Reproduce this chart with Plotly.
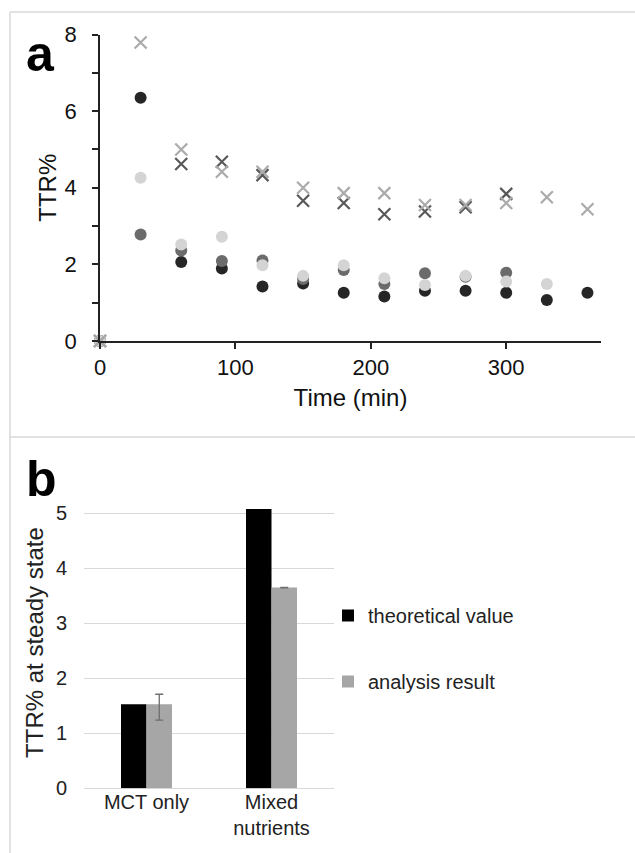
import plotly.graph_objects as go

W, H = 635, 853
FONT = "Liberation Sans, Arial, sans-serif"

# ---------- panel a data ----------
time_min = [0, 30, 60, 90, 120, 150, 180, 210, 240, 270, 300, 330, 360]
dots_black = [0, 6.35, 2.06, 1.89, 1.42, 1.50, 1.26, 1.16, 1.31, 1.31, 1.26, 1.07, 1.26]
dots_dark = [0, 2.78, 2.36, 2.09, 2.10, 1.62, 1.85, 1.49, 1.77, 1.68, 1.78, None, None]
dots_light = [0, 4.26, 2.52, 2.72, 1.98, 1.70, 1.98, 1.64, 1.46, 1.70, 1.55, 1.49, None]
cross_dark = [0, None, 4.62, 4.68, 4.33, 3.66, 3.60, 3.31, 3.38, 3.49, 3.84, None, None]
cross_light = [0, 7.79, 5.00, 4.42, 4.42, 4.00, 3.86, 3.86, 3.55, 3.55, 3.60, 3.75, 3.44]

# ---------- panel b data ----------
groups = ["MCT only", "Mixed<br>nutrients"]
theoretical = [1.53, 5.08]
analysis = [1.53, 3.65]
analysis_err_plus = [0.18, 0.005]
analysis_err_minus = [0.29, 0.005]

a_xticks = [0, 100, 200, 300]
a_yticks = [0, 1, 2, 3, 4, 5, 6, 7, 8]
a_yticktext = ["0", "", "2", "", "4", "", "6", "", "8"]
b_yticks = [0, 1, 2, 3, 4, 5]


def px_x(p):
    return p / W


def px_y(p):
    return 1 - p / H


fig = go.Figure()

dot_series = [
    (dots_black, "#262626"),
    (dots_dark, "#6b6b6b"),
    (dots_light, "#d4d4d4"),
]
for vals, col in dot_series:
    fig.add_trace(go.Scatter(
        x=time_min, y=vals, mode="markers", xaxis="x", yaxis="y",
        marker=dict(symbol="circle", size=12, color=col),
        showlegend=False, cliponaxis=False, hoverinfo="x+y"))

cross_series = [
    (cross_dark, "#595959"),
    (cross_light, "#ababab"),
]
for vals, col in cross_series:
    fig.add_trace(go.Scatter(
        x=time_min, y=vals, mode="markers", xaxis="x", yaxis="y",
        marker=dict(symbol="x-thin", size=12, line=dict(color=col, width=2.2)),
        showlegend=False, cliponaxis=False, hoverinfo="x+y"))

fig.add_trace(go.Bar(
    x=groups, y=theoretical, name="theoretical value", xaxis="x2", yaxis="y2",
    marker=dict(color="#000000", line=dict(width=0)), legendgroup="t"))
fig.add_trace(go.Bar(
    x=groups, y=analysis, name="analysis result", xaxis="x2", yaxis="y2",
    marker=dict(color="#a6a6a6", line=dict(width=0)), legendgroup="a",
    error_y=dict(type="data", symmetric=False, array=analysis_err_plus,
                 arrayminus=analysis_err_minus, color="#6e6e6e",
                 thickness=1.3, width=4)))

BORDER = dict(color="#d9d9d9", width=1.5)

fig.update_layout(
    width=W, height=H, autosize=False,
    margin=dict(l=0, r=0, t=0, b=0, pad=0, autoexpand=False),
    paper_bgcolor="white", plot_bgcolor="white",
    font=dict(family=FONT, color="#111111"),
    barmode="group", bargap=0.592, bargroupgap=0,
    xaxis=dict(
        domain=[px_x(100), px_x(601)], range=[0, 370], anchor="y",
        automargin=False,
        tickvals=a_xticks, ticks="outside", ticklen=6, tickwidth=1.5,
        tickcolor="#222", showline=True, linecolor="#222", linewidth=1.5,
        showgrid=False, zeroline=False, tickfont=dict(size=22),
        title=dict(text="Time (min)", font=dict(size=24), standoff=10)),
    yaxis=dict(
        domain=[px_y(341), px_y(34.5)], range=[0, 8], anchor="x",
        automargin=False,
        tickvals=a_yticks, ticktext=a_yticktext, ticks="outside", ticklen=6,
        tickwidth=1.5, tickcolor="#222", showline=True, linecolor="#222",
        linewidth=1.5, showgrid=False, zeroline=False, tickfont=dict(size=22),
        ticklabelstandoff=11,
        title=dict(text="TTR%", font=dict(size=24), standoff=1)),
    xaxis2=dict(
        domain=[px_x(84), px_x(334)], anchor="y2", showline=False,
        automargin=False,
        showgrid=False, ticks="", tickfont=dict(size=20, color="#222")),
    yaxis2=dict(
        domain=[px_y(788.3), px_y(496.8)], range=[0, 5.3], anchor="x2",
        automargin=False,
        tickvals=b_yticks, showgrid=True, gridcolor="#d9d9d9", gridwidth=1.3,
        zeroline=True, zerolinecolor="#d9d9d9", zerolinewidth=1.3,
        showline=False, ticks="outside", ticklen=12,
        tickcolor="rgba(0,0,0,0)", tickfont=dict(size=20, color="#222"),
        title=dict(text="TTR% at steady state", font=dict(size=24, color="#222"),
                   standoff=5)),
    legend=dict(x=px_x(328), y=px_y(596), xanchor="left", yanchor="top",
                font=dict(size=20, color="#222"), tracegroupgap=37,
                bgcolor="rgba(0,0,0,0)", itemclick=False),
    shapes=[
        dict(type="line", xref="paper", yref="paper",
             x0=px_x(10), x1=1, y0=px_y(12), y1=px_y(12), line=BORDER),
        dict(type="line", xref="paper", yref="paper",
             x0=px_x(10), x1=1, y0=px_y(437), y1=px_y(437), line=BORDER),
        dict(type="line", xref="paper", yref="paper",
             x0=px_x(10), x1=px_x(10), y0=0, y1=px_y(12), line=BORDER),
    ],
    annotations=[
        dict(text="<b>a</b>", xref="paper", yref="paper", x=px_x(24), y=px_y(84),
             xanchor="left", yanchor="bottom", showarrow=False,
             font=dict(size=50, color="#000")),
        dict(text="<b>b</b>", xref="paper", yref="paper", x=px_x(23.5), y=px_y(509),
             xanchor="left", yanchor="bottom", showarrow=False,
             font=dict(size=50, color="#000")),
    ],
)

fig.write_html(
    "out.html",
    config={"displayModeBar": False},
    post_script="document.body.style.margin='0';document.body.style.overflow='hidden';",
)
